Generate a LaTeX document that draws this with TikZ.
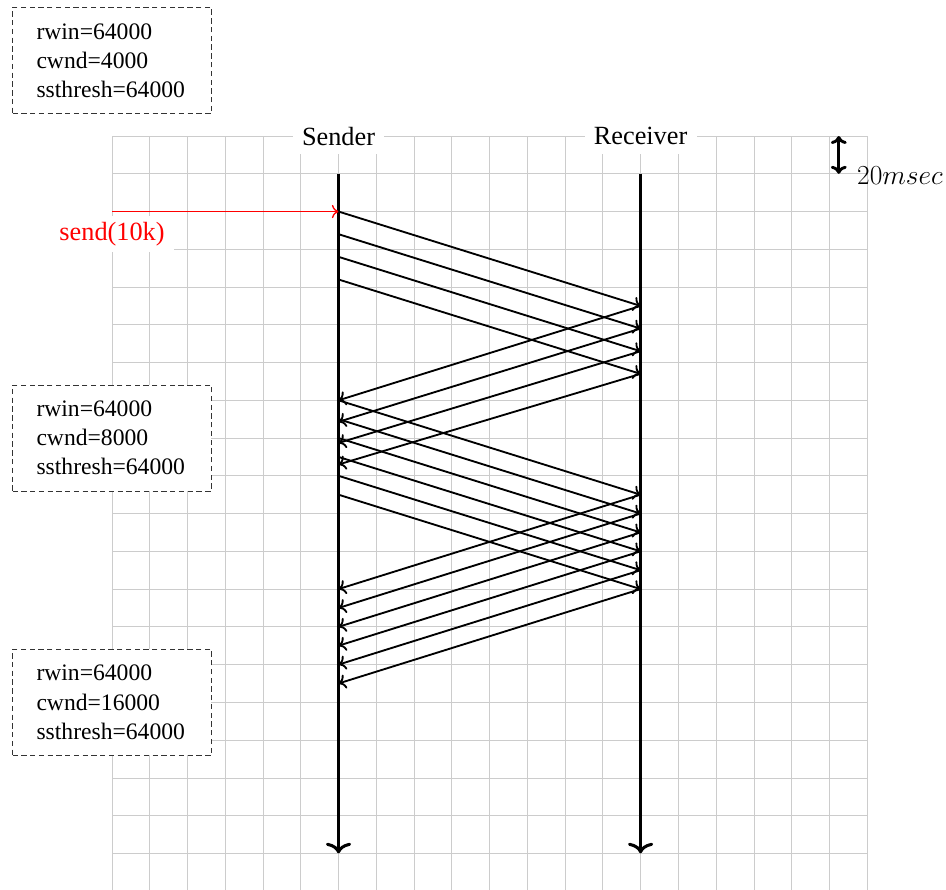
\documentclass[tikz,border=0pt]{standalone}
\usepackage{fontspec}
\setmainfont{Liberation Serif}
\usetikzlibrary{arrows.meta}
\begin{document}
\begin{tikzpicture}[
  gridline/.style={draw=black!20, line width=0.5pt},
  biglabel/.style={font=\fontsize{19.8}{24}\selectfont, fill=white, inner xsep=7pt, inner ysep=0pt, minimum height=0.95cm},
  timeline/.style={line width=2.3pt, -{Computer Modern Rightarrow[length=8pt, width=19pt]}},
  pkt/.style={line width=1.4pt, -{Computer Modern Rightarrow[length=5.5pt, width=11pt]}},
  infobox/.style={draw=black!80, line width=0.7pt, dash pattern=on 4pt off 2.6pt, fill=white, font=\fontsize{17.8}{22}\selectfont, align=left, text width=4.0cm, inner xsep=0.635cm, inner ysep=0pt, minimum height=2.81cm},
]
\useasboundingbox (-2.967,-19.97) rectangle (22.09,3.603);
% grid
\draw[gridline] (0,-20) grid (20,0);

% column labels
\node[biglabel] (sl) at (6,0) {Sender};
\node[biglabel] (rl) at (14,0) {Receiver};

% time lines
\coordinate (stop) at (6,-1);
\coordinate (sbot) at (6,-19);
\coordinate (rtop) at (14,-1);
\coordinate (rbot) at (14,-19);
\draw[timeline] (stop) -- (sbot);
\draw[timeline] (rtop) -- (rbot);

% 20 msec scale
\coordinate (mt) at (19.25,0);
\coordinate (mb) at (19.25,-1);
\draw[line width=2.2pt, {Computer Modern Rightarrow[length=6pt, width=12pt]}-{Computer Modern Rightarrow[length=6pt, width=12pt]}] (mt) -- (mb);
\node[anchor=base west, inner sep=0pt, font=\fontsize{19.8}{24}\selectfont] (ms) at (19.73,-1.29) {$20msec$};

% send(10k)
\coordinate (sendstart) at (0,-2);
\coordinate (sendend) at (6,-2);
\node[biglabel, text=red, below, yshift=-3pt] (sendlbl) at (sendstart) {send(10k)};
\draw[draw=red, line width=1pt, -{Computer Modern Rightarrow[length=5pt, width=10pt]}] (sendstart) -- (sendend);

% round 1 data
\foreach \t [count=\i] in {2.0,2.6,3.2,3.8} {
  \coordinate (aS\i) at (6,{-\t});
  \coordinate (aR\i) at (14,{-\t-2.5});
  \draw[pkt] (aS\i) -- (aR\i);
}
% round 1 acks
\foreach \a/\b [count=\i] in {4.5/7.0,5.1/7.57,5.7/8.13,6.3/8.7} {
  \coordinate (bR\i) at (14,{-\a});
  \coordinate (bS\i) at (6,{-\b});
  \draw[pkt] (bR\i) -- (bS\i);
}
% round 2 data
\foreach \t [count=\i] in {7.0,7.5,8.0,8.5,9.0,9.5} {
  \coordinate (cS\i) at (6,{-\t});
  \coordinate (cR\i) at (14,{-\t-2.5});
  \draw[pkt] (cS\i) -- (cR\i);
}
% round 2 acks
\foreach \t [count=\i] in {9.5,10.0,10.5,11.0,11.5,12.0} {
  \coordinate (eR\i) at (14,{-\t});
  \coordinate (eS\i) at (6,{-\t-2.5});
  \draw[pkt] (eR\i) -- (eS\i);
}

% state boxes
\node[infobox] (box1) at (0,2) {rwin=64000\\cwnd=4000\\ssthresh=64000};
\node[infobox] (box2) at (0,-8) {rwin=64000\\cwnd=8000\\ssthresh=64000};
\node[infobox] (box3) at (0,-15) {rwin=64000\\cwnd=16000\\ssthresh=64000};
\end{tikzpicture}
\end{document}
